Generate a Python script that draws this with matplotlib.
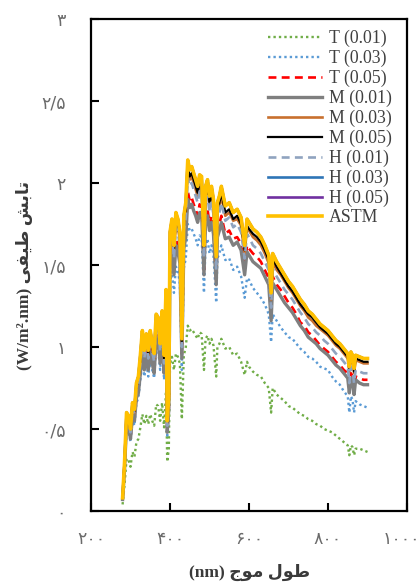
import matplotlib
matplotlib.use("Agg")
import matplotlib.pyplot as plt
from matplotlib.transforms import ScaledTranslation

# Wavelength grid (nm)
wavelength = [
    280, 285, 290, 295, 300, 305, 310, 315, 320, 325,
    330, 335, 340, 345, 350, 355, 360, 365, 370, 375,
    380, 385, 390, 393, 397, 400, 405, 410, 415, 420,
    425, 430, 435, 440, 445, 450, 455, 460, 465, 470,
    475, 480, 486, 490, 495, 500, 505, 510, 517, 520,
    525, 530, 540, 550, 560, 570, 580, 589, 595, 600,
    610, 620, 630, 640, 650, 656, 660, 670, 680, 690,
    700, 710, 720, 730, 740, 750, 760, 770, 780, 790,
    800, 810, 820, 830, 840, 850, 854, 858, 862, 866,
    870, 880, 890, 900]

# Spectral irradiance (W/m2.nm)
astm = [
    0.08, 0.30, 0.60, 0.58, 0.50, 0.66, 0.62, 0.78, 0.82, 0.95,
    1.10, 0.98, 1.08, 0.98, 1.10, 1.02, 0.96, 1.20, 1.18, 1.02,
    1.22, 0.95, 1.35, 0.55, 0.70, 1.70, 1.78, 1.62, 1.82, 1.78,
    1.70, 1.05, 1.80, 1.88, 2.14, 2.08, 2.10, 2.06, 2.02, 1.98,
    2.05, 2.04, 1.62, 1.98, 2.02, 1.92, 1.98, 1.90, 1.55, 1.88,
    1.92, 1.98, 1.86, 1.88, 1.82, 1.84, 1.79, 1.62, 1.78, 1.76,
    1.72, 1.70, 1.67, 1.62, 1.56, 1.33, 1.57, 1.52, 1.48, 1.44,
    1.40, 1.37, 1.33, 1.29, 1.26, 1.22, 1.20, 1.17, 1.14, 1.12,
    1.10, 1.07, 1.04, 1.02, 0.99, 0.96, 0.88, 0.97, 0.95, 0.87,
    0.95, 0.94, 0.93, 0.93]

t_001 = [
    0.04, 0.16, 0.32, 0.31, 0.27, 0.36, 0.33, 0.42, 0.44, 0.51,
    0.59, 0.53, 0.58, 0.53, 0.59, 0.55, 0.52, 0.65, 0.64, 0.55,
    0.66, 0.51, 0.73, 0.30, 0.38, 0.90, 0.94, 0.86, 0.96, 0.94,
    0.90, 0.56, 0.95, 1.00, 1.13, 1.10, 1.11, 1.09, 1.07, 1.05,
    1.09, 1.08, 0.86, 1.05, 1.07, 1.02, 1.05, 1.01, 0.82, 1.00,
    1.02, 1.05, 0.99, 1.00, 0.95, 0.96, 0.91, 0.83, 0.91, 0.88,
    0.85, 0.83, 0.82, 0.78, 0.75, 0.60, 0.75, 0.71, 0.69, 0.67,
    0.64, 0.63, 0.61, 0.59, 0.58, 0.56, 0.55, 0.53, 0.52, 0.50,
    0.49, 0.48, 0.46, 0.44, 0.42, 0.40, 0.34, 0.40, 0.39, 0.34,
    0.38, 0.38, 0.37, 0.36]

t_003 = [
    0.07, 0.25, 0.50, 0.49, 0.42, 0.55, 0.52, 0.66, 0.69, 0.80,
    0.92, 0.82, 0.91, 0.82, 0.92, 0.86, 0.81, 1.01, 0.99, 0.86,
    1.02, 0.80, 1.13, 0.46, 0.59, 1.39, 1.46, 1.33, 1.49, 1.46,
    1.39, 0.86, 1.48, 1.54, 1.75, 1.71, 1.72, 1.69, 1.66, 1.62,
    1.68, 1.67, 1.33, 1.62, 1.66, 1.57, 1.62, 1.56, 1.27, 1.54,
    1.57, 1.62, 1.53, 1.54, 1.47, 1.49, 1.43, 1.30, 1.42, 1.41,
    1.36, 1.33, 1.30, 1.26, 1.20, 1.03, 1.20, 1.16, 1.12, 1.09,
    1.06, 1.05, 1.02, 0.99, 0.97, 0.94, 0.93, 0.91, 0.88, 0.87,
    0.86, 0.82, 0.79, 0.77, 0.73, 0.70, 0.60, 0.70, 0.68, 0.60,
    0.67, 0.65, 0.64, 0.63]

t_005 = [
    0.07, 0.27, 0.54, 0.52, 0.45, 0.59, 0.56, 0.70, 0.74, 0.86,
    0.99, 0.88, 0.97, 0.88, 0.99, 0.92, 0.86, 1.08, 1.06, 0.92,
    1.10, 0.86, 1.22, 0.50, 0.63, 1.55, 1.62, 1.47, 1.66, 1.62,
    1.55, 0.96, 1.64, 1.71, 1.95, 1.89, 1.91, 1.87, 1.84, 1.80,
    1.87, 1.86, 1.47, 1.80, 1.84, 1.75, 1.80, 1.73, 1.41, 1.71,
    1.75, 1.80, 1.69, 1.71, 1.66, 1.67, 1.63, 1.47, 1.62, 1.60,
    1.57, 1.55, 1.52, 1.47, 1.42, 1.20, 1.43, 1.38, 1.35, 1.31,
    1.27, 1.24, 1.20, 1.15, 1.13, 1.09, 1.07, 1.04, 1.01, 0.99,
    0.97, 0.94, 0.91, 0.89, 0.86, 0.84, 0.74, 0.84, 0.82, 0.74,
    0.82, 0.81, 0.80, 0.80]

m_001 = [
    0.07, 0.26, 0.53, 0.51, 0.44, 0.58, 0.55, 0.69, 0.72, 0.84,
    0.97, 0.86, 0.95, 0.86, 0.97, 0.90, 0.84, 1.06, 1.04, 0.90,
    1.07, 0.84, 1.19, 0.48, 0.62, 1.51, 1.58, 1.44, 1.62, 1.58,
    1.51, 0.93, 1.60, 1.67, 1.90, 1.85, 1.87, 1.83, 1.80, 1.76,
    1.82, 1.82, 1.44, 1.76, 1.80, 1.71, 1.76, 1.69, 1.38, 1.67,
    1.71, 1.76, 1.66, 1.67, 1.62, 1.64, 1.59, 1.44, 1.58, 1.56,
    1.52, 1.50, 1.48, 1.43, 1.38, 1.16, 1.39, 1.35, 1.31, 1.27,
    1.24, 1.21, 1.17, 1.13, 1.10, 1.06, 1.04, 1.02, 0.99, 0.97,
    0.95, 0.92, 0.89, 0.87, 0.84, 0.81, 0.72, 0.81, 0.79, 0.71,
    0.80, 0.78, 0.77, 0.77]

m_003 = [
    0.08, 0.29, 0.58, 0.56, 0.49, 0.64, 0.60, 0.76, 0.80, 0.92,
    1.07, 0.95, 1.05, 0.95, 1.07, 0.99, 0.93, 1.16, 1.14, 0.99,
    1.18, 0.92, 1.31, 0.53, 0.68, 1.65, 1.73, 1.57, 1.77, 1.73,
    1.65, 1.02, 1.75, 1.82, 2.08, 2.02, 2.04, 2.00, 1.96, 1.92,
    1.99, 1.98, 1.57, 1.92, 1.96, 1.86, 1.92, 1.84, 1.50, 1.82,
    1.86, 1.92, 1.80, 1.82, 1.77, 1.78, 1.74, 1.57, 1.73, 1.71,
    1.67, 1.65, 1.62, 1.57, 1.51, 1.29, 1.52, 1.47, 1.44, 1.40,
    1.36, 1.33, 1.29, 1.25, 1.22, 1.18, 1.16, 1.13, 1.11, 1.09,
    1.07, 1.04, 1.01, 0.99, 0.96, 0.93, 0.85, 0.94, 0.92, 0.84,
    0.92, 0.91, 0.90, 0.90]

m_005 = [
    0.08, 0.29, 0.59, 0.57, 0.49, 0.65, 0.61, 0.76, 0.80, 0.93,
    1.08, 0.96, 1.06, 0.96, 1.08, 1.00, 0.94, 1.18, 1.16, 1.00,
    1.20, 0.93, 1.32, 0.54, 0.69, 1.67, 1.74, 1.59, 1.78, 1.74,
    1.67, 1.03, 1.76, 1.84, 2.10, 2.04, 2.06, 2.02, 1.98, 1.94,
    2.01, 2.00, 1.59, 1.94, 1.98, 1.88, 1.94, 1.86, 1.52, 1.84,
    1.88, 1.94, 1.82, 1.84, 1.78, 1.80, 1.75, 1.59, 1.74, 1.72,
    1.69, 1.67, 1.64, 1.59, 1.53, 1.30, 1.54, 1.49, 1.45, 1.41,
    1.37, 1.34, 1.30, 1.26, 1.23, 1.20, 1.18, 1.15, 1.12, 1.10,
    1.08, 1.05, 1.02, 1.00, 0.97, 0.94, 0.86, 0.95, 0.93, 0.85,
    0.93, 0.92, 0.91, 0.91]

h_001 = [
    0.08, 0.28, 0.57, 0.55, 0.48, 0.63, 0.59, 0.74, 0.78, 0.90,
    1.05, 0.93, 1.03, 0.93, 1.05, 0.97, 0.91, 1.14, 1.12, 0.97,
    1.16, 0.90, 1.28, 0.52, 0.67, 1.62, 1.69, 1.54, 1.73, 1.69,
    1.62, 1.00, 1.71, 1.79, 2.03, 1.98, 2.00, 1.96, 1.92, 1.88,
    1.95, 1.94, 1.54, 1.88, 1.92, 1.82, 1.88, 1.81, 1.47, 1.79,
    1.82, 1.88, 1.77, 1.79, 1.73, 1.75, 1.70, 1.54, 1.69, 1.67,
    1.62, 1.60, 1.57, 1.52, 1.47, 1.24, 1.48, 1.43, 1.39, 1.35,
    1.32, 1.29, 1.25, 1.21, 1.18, 1.14, 1.12, 1.09, 1.07, 1.04,
    1.02, 0.99, 0.96, 0.94, 0.91, 0.88, 0.78, 0.88, 0.86, 0.78,
    0.86, 0.85, 0.84, 0.84]

h_003 = [
    0.08, 0.30, 0.60, 0.58, 0.50, 0.66, 0.62, 0.78, 0.82, 0.95,
    1.10, 0.98, 1.08, 0.98, 1.10, 1.02, 0.96, 1.20, 1.18, 1.02,
    1.22, 0.95, 1.35, 0.55, 0.70, 1.70, 1.78, 1.62, 1.81, 1.78,
    1.70, 1.05, 1.80, 1.88, 2.13, 2.08, 2.10, 2.06, 2.02, 1.98,
    2.04, 2.04, 1.62, 1.98, 2.02, 1.92, 1.98, 1.90, 1.55, 1.88,
    1.92, 1.98, 1.86, 1.88, 1.82, 1.84, 1.79, 1.62, 1.78, 1.76,
    1.72, 1.70, 1.67, 1.62, 1.56, 1.33, 1.57, 1.52, 1.48, 1.44,
    1.40, 1.37, 1.33, 1.29, 1.26, 1.22, 1.20, 1.17, 1.14, 1.12,
    1.10, 1.07, 1.04, 1.02, 0.99, 0.96, 0.88, 0.97, 0.95, 0.87,
    0.95, 0.94, 0.93, 0.93]

h_005 = [
    0.08, 0.30, 0.60, 0.58, 0.50, 0.66, 0.62, 0.78, 0.82, 0.95,
    1.10, 0.98, 1.08, 0.98, 1.10, 1.02, 0.96, 1.20, 1.18, 1.02,
    1.22, 0.95, 1.35, 0.55, 0.70, 1.70, 1.78, 1.62, 1.82, 1.78,
    1.70, 1.05, 1.80, 1.88, 2.14, 2.08, 2.10, 2.06, 2.02, 1.98,
    2.05, 2.04, 1.62, 1.98, 2.02, 1.92, 1.98, 1.90, 1.55, 1.88,
    1.92, 1.98, 1.86, 1.88, 1.82, 1.84, 1.79, 1.62, 1.78, 1.76,
    1.72, 1.70, 1.67, 1.62, 1.56, 1.33, 1.57, 1.52, 1.48, 1.44,
    1.40, 1.37, 1.33, 1.29, 1.26, 1.22, 1.20, 1.17, 1.14, 1.12,
    1.10, 1.07, 1.04, 1.02, 0.99, 0.96, 0.88, 0.97, 0.95, 0.87,
    0.95, 0.94, 0.93, 0.93]

series_labels = ["T (0.01)", "T (0.03)", "T (0.05)", "M (0.01)", "M (0.03)",
                 "M (0.05)", "H (0.01)", "H (0.03)", "H (0.05)", "ASTM"]

x_ticks = [200, 400, 600, 800, 1000]
x_tick_labels = ["۲۰۰", "۴۰۰", "۶۰۰", "۸۰۰", "۱۰۰۰"]
y_ticks = [0, 0.5, 1, 1.5, 2, 2.5, 3]
y_tick_labels = ["۰", "۰/۵", "۱", "۱/۵", "۲", "۲/۵", "۳"]

# Persian axis titles, written with Arabic presentation forms in display order
x_title = "(nm) \uFE9D\uFEEE\uFEE3 \uFEDD\uFEEE\uFEC3"          # طول موج (nm)
y_title = "(W/m\u00b2.nm) \uFEF0\uFED4\uFEF4\uFEC3 \uFEB6\uFE91\uFE8E\uFE97"  # تابش طیفی

styles = [
    dict(color="#70AD47", ls=(0, (1, 1.3)), lw=1.7),
    dict(color="#5B9BD5", ls=(0, (1, 1.3)), lw=1.7),
    dict(color="#FF0000", ls=(0, (3, 2)), lw=1.9),
    dict(color="#7F7F7F", ls="-", lw=2.4),
    dict(color="#C8702E", ls="-", lw=1.9),
    dict(color="#000000", ls="-", lw=1.6),
    dict(color="#8FA3BF", ls=(0, (3, 2)), lw=1.9),
    dict(color="#2E75B6", ls="-", lw=1.9),
    dict(color="#7030A0", ls="-", lw=1.9),
    dict(color="#FFC000", ls="-", lw=2.6),
]
series_values = [t_001, t_003, t_005, m_001, m_003, m_005, h_001, h_003, h_005, astm]

fig = plt.figure(figsize=(4.2, 5.84), dpi=100)
ax = fig.add_axes([91 / 420, 73 / 584, 316 / 420, 492 / 584])

for label, vals, st in zip(series_labels, series_values, styles):
    ax.plot(wavelength, vals, label=label, **st)

ax.set_xlim(200, 1000)
ax.set_ylim(0, 3)
ax.set_xticks(x_ticks)
ax.set_xticklabels(x_tick_labels)
ax.set_yticks(y_ticks)
ax.set_yticklabels(y_tick_labels)
ax.tick_params(axis="both", direction="in", length=6, width=1.5, color="black",
               labelsize=12.5, labelcolor="#6b6b6b", top=False, right=False)
ax.tick_params(axis="x", pad=14)
ax.tick_params(axis="y", pad=18)
for lab in ax.get_xticklabels() + ax.get_yticklabels():
    lab.set_family("DejaVu Sans")

# last x label sits against the right edge of the figure
last = ax.get_xticklabels()[-1]
last.set_horizontalalignment("right")
last.set_transform(last.get_transform() + ScaledTranslation(13 / 100, 0, fig.dpi_scale_trans))

for sp in ax.spines.values():
    sp.set_linewidth(1.6)
    sp.set_color("black")

title_font = dict(family=["Liberation Serif", "DejaVu Sans"], fontsize=12.5,
                  fontweight="bold", color="#3a3a3a")
fig.text(250 / 420, 1 - 572 / 584, x_title, ha="center", va="center", **title_font)
fig.text(25 / 420, 1 - 276 / 584, y_title, ha="center", va="center",
         rotation=90, **title_font)

leg = ax.legend(loc="upper right", bbox_to_anchor=(0.985, 1.0), frameon=False,
                prop=dict(family="Liberation Serif", size=12.8),
                handlelength=3.0, handletextpad=0.4, labelspacing=0.15,
                borderaxespad=0.3, borderpad=0.3)
for t in leg.get_texts():
    t.set_color("#404040")

fig.savefig("out.png", dpi=100)
